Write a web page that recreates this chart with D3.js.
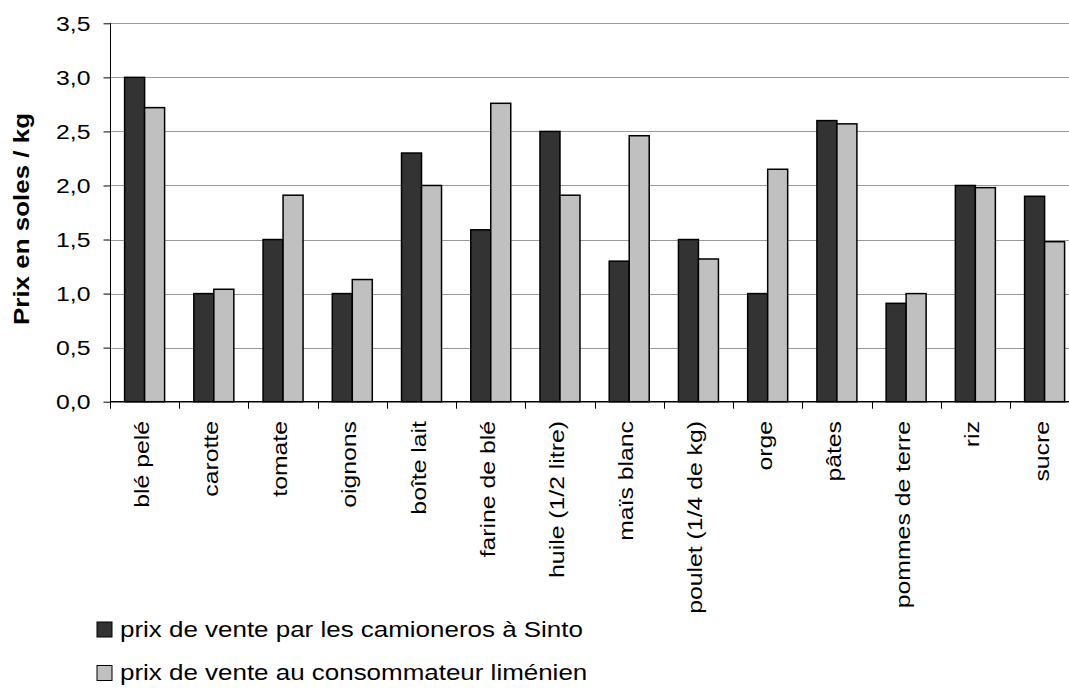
<!DOCTYPE html>
<html>
<head>
<meta charset="utf-8">
<script src="https://cdn.jsdelivr.net/npm/d3@7"></script>
<style>
  body { margin: 0; background: #fff; }
  text { font-family: "Liberation Sans", Arial, sans-serif; fill: #000; }
</style>
</head>
<body>
<div id="viz"></div>
<script>
// data
const categories = ["blé pelé", "carotte", "tomate", "oignons", "boîte lait", "farine de blé",
  "huile (1/2 litre)", "maïs blanc", "poulet (1/4 de kg)", "orge", "pâtes", "pommes de terre", "riz", "sucre"];
const seriesNames = ["prix de vente par les camioneros à Sinto", "prix de vente au consommateur liménien"];
const camioneros = [3.0, 1.0, 1.5, 1.0, 2.3, 1.59, 2.5, 1.3, 1.5, 1.0, 2.6, 0.91, 2.0, 1.9];
const consommateur = [2.72, 1.04, 1.91, 1.13, 2.0, 2.76, 1.91, 2.46, 1.32, 2.15, 2.57, 1.0, 1.98, 1.48];
const yTicks = [0, 0.5, 1.0, 1.5, 2.0, 2.5, 3.0, 3.5];

const colors = ["#333333", "#c0c0c0"];
const stretch = 1.18;  // text in the reference is a bit wider than Arial

const W = 1069, H = 688;
const plotLeft = 110, plotTop = 23.3, plotBottom = 401.7;
const step = 69.23;

const svg = d3.select("#viz").append("svg")
  .attr("width", W).attr("height", H);

const x = d3.scaleBand()
  .domain(categories)
  .range([plotLeft, plotLeft + step * categories.length])
  .padding(0);

const x1 = d3.scaleBand()
  .domain([0, 1])
  .range([14.6, 54.6]);

const y = d3.scaleLinear()
  .domain([0, 3.5])
  .range([plotBottom, plotTop]);

const fr = d3.formatLocale({ decimal: ",", thousands: " ", grouping: [3], currency: ["", ""] });
const fmt = fr.format(".1f");

// grid lines
svg.append("g")
  .selectAll("line")
  .data(yTicks.filter(d => d > 0))
  .join("line")
  .attr("x1", plotLeft).attr("x2", W)
  .attr("y1", d => Math.round(y(d)) + 0.5)
  .attr("y2", d => Math.round(y(d)) + 0.5)
  .attr("stroke", "#999")
  .attr("stroke-width", 1);

// bars
const rows = categories.map((c, i) => ({ cat: c, vals: [camioneros[i], consommateur[i]] }));

svg.append("g")
  .selectAll("g")
  .data(rows)
  .join("g")
  .attr("transform", d => `translate(${x(d.cat)},0)`)
  .selectAll("rect")
  .data(d => d.vals.map((v, k) => ({ v, k })))
  .join("rect")
  .attr("x", d => x1(d.k))
  .attr("width", x1.bandwidth())
  .attr("y", d => y(d.v))
  .attr("height", d => y(0) - y(d.v))
  .attr("fill", d => colors[d.k])
  .attr("stroke", "#000")
  .attr("stroke-width", 1.5);

// y axis
const yAxis = svg.append("g")
  .attr("transform", `translate(${plotLeft + 0.5},0)`)
  .call(d3.axisLeft(y).tickValues(yTicks).tickFormat(fmt).tickSize(7).tickSizeOuter(0));
yAxis.select(".domain").attr("stroke", "#000").attr("d", `M0,${plotTop}V${plotBottom}`);
yAxis.selectAll(".tick line").attr("stroke", "#000");
yAxis.selectAll(".tick text")
  .attr("x", null)
  .attr("transform", `translate(-20,0) scale(${stretch},1)`)
  .style("font-size", "21px")
  .style("font-family", "'Liberation Sans', Arial, sans-serif")
  .attr("fill", "#000");

// x axis line and ticks at band edges
const xAxis = svg.append("g");
xAxis.append("line")
  .attr("x1", plotLeft).attr("x2", W)
  .attr("y1", plotBottom).attr("y2", plotBottom)
  .attr("stroke", "#000").attr("stroke-width", 1.5);
xAxis.selectAll("line.tk")
  .data(categories)
  .join("line")
  .attr("class", "tk")
  .attr("x1", d => Math.round(x(d)) + 0.5)
  .attr("x2", d => Math.round(x(d)) + 0.5)
  .attr("y1", plotBottom).attr("y2", plotBottom + 7)
  .attr("stroke", "#000");

xAxis.selectAll("text")
  .data(categories)
  .join("text")
  .attr("transform", d => `translate(${x(d) + x.bandwidth() / 2 + 4},421) rotate(-90) scale(${stretch},1)`)
  .attr("text-anchor", "end")
  .style("font-size", "21px")
  .text(d => d);

// y title
svg.append("text")
  .attr("transform", `translate(29,219) rotate(-90) scale(${stretch},1)`)
  .attr("text-anchor", "middle")
  .style("font-size", "22px")
  .style("font-weight", "bold")
  .text("Prix en soles / kg");

// legend
const legend = svg.append("g")
  .selectAll("g")
  .data(seriesNames)
  .join("g")
  .attr("transform", (d, i) => `translate(97,${622 + i * 43.5})`);

legend.append("rect")
  .attr("width", 15).attr("height", 15)
  .attr("fill", (d, i) => colors[i])
  .attr("stroke", "#000").attr("stroke-width", 1);

legend.append("text")
  .attr("transform", `translate(23,14.5) scale(${stretch},1)`)
  .style("font-size", "22px")
  .text(d => d);
</script>
</body>
</html>
